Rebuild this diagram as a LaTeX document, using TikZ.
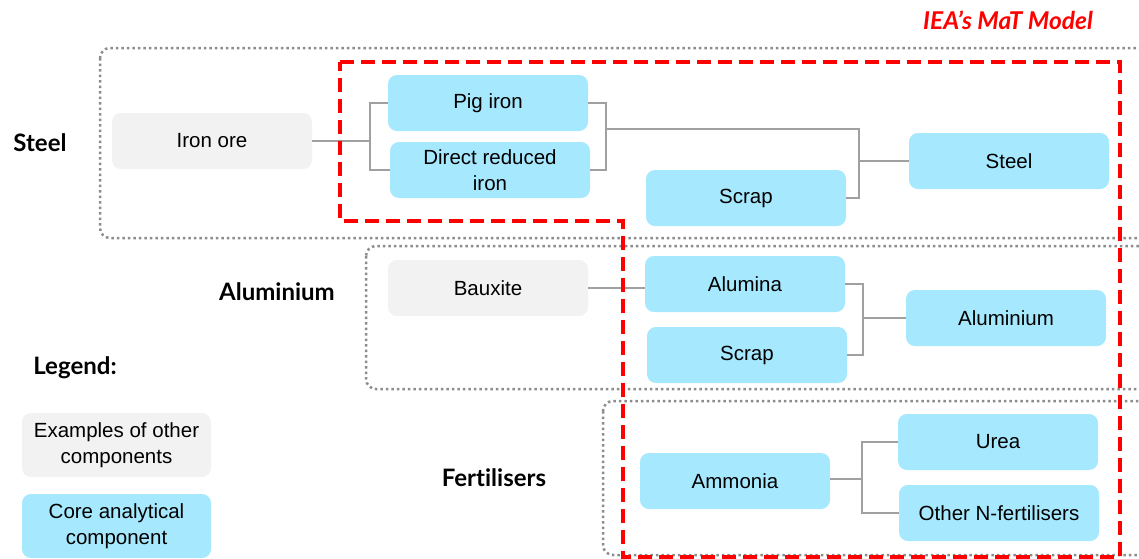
\documentclass[tikz,border=0pt]{standalone}
\usepackage{fontspec}
\setmainfont{Liberation Sans}
\newfontfamily\lblfont[Ligatures={NoCommon}]{Lato}
\definecolor{corefill}{HTML}{A6E8FD}
\definecolor{otherfill}{HTML}{F2F2F2}
\definecolor{linegrey}{HTML}{A0A0A0}
\definecolor{dotgrey}{HTML}{8C8C8C}
\definecolor{ieared}{HTML}{FF0000}
\tikzset{
  box/.style={rounded corners=9pt, minimum width=200pt, minimum height=56pt, align=center, inner sep=2pt,
    font=\fontsize{20.5}{25.5}\selectfont, text=black},
  core/.style={box, fill=corefill},
  other/.style={box, fill=otherfill},
  conn/.style={draw=linegrey, line width=1.4pt},
  group/.style={draw=dotgrey, line width=2.5pt, dash pattern=on 2.5pt off 3pt, rounded corners=10pt},
  model/.style={draw=ieared, line width=4pt, dash pattern=on 14pt off 7pt},
  seclabel/.style={font=\lblfont\bfseries\fontsize{24}{28}\selectfont, text=black},
}
\begin{document}
\begin{tikzpicture}[x=1pt,y=-1pt]
\useasboundingbox (0,0) rectangle (1139,558);
\begin{scope}
\clip (0,0) rectangle (1139,558);
\draw[group] (100,48) rectangle (1160,238);
\draw[group] (366,246) rectangle (1160,389);
\draw[group] (603,401) rectangle (1160,555);
\end{scope}

% labels
\node[seclabel] (lsteel) at (40,143) {Steel};
\node[seclabel] (lalu) at (277,292) {Aluminium};
\node[seclabel] (llegend) at (75,368) {Legend:};
\node[seclabel] (lfert) at (494,478) {Ferti\kern0pt lisers};
\node[font=\lblfont\bfseries\itshape\fontsize{24.5}{28}\selectfont, text=ieared] (ltitle) at (1008,20) {IEA’s MaT Model};

% steel
\node[other] (iron) at (212,141) {Iron ore};
\node[core] (pig) at (488,103) {Pig iron};
\node[core] (dri) at (490,170) {Direct reduced\\iron};
\node[core] (scrap1) at (746,198) {Scrap};
\node[core] (steel) at (1009,161) {Steel};
% aluminium
\node[other] (bauxite) at (488,288) {Bauxite};
\node[core] (alumina) at (745,284) {Alumina};
\node[core] (scrap2) at (747,355) {Scrap};
\node[core] (alu) at (1006,318) {Aluminium};
% fertilisers
\node[core, minimum width=190pt] (ammonia) at (735,481) {Ammonia};
\node[core] (urea) at (998,442) {Urea};
\node[core] (othern) at (999,513) {Other N-fertilisers};
% legend
\node[other, minimum width=189pt, minimum height=64pt] (legother) at (116.5,445) {Examples of other\\components};
\node[core, minimum width=189pt, minimum height=64pt] (legcore) at (116.5,526) {Core analytical\\component};

% connectors
\coordinate (j0) at (370,141);
\coordinate (j1) at (606,129);
\coordinate (j2) at (859,161);
\coordinate (j3) at (863,318);
\coordinate (j4) at (862,479);
\draw[conn] (iron.east) -- (j0);
\draw[conn] (pig.west) -| (j0) |- (dri.west);
\draw[conn] (pig.east) -| (j1) |- (dri.east);
\draw[conn] (j1) -| (j2);
\draw[conn] (scrap1.east) -| (j2) -- (steel.west);
\draw[conn] (bauxite.east) -- (bauxite.east -| alumina.west);
\draw[conn] (alumina.east) -| (j3) |- (scrap2.east);
\draw[conn] (j3) -- (alu.west);
\draw[conn] (ammonia.east |- j4) -- (j4);
\draw[conn] (urea.west) -| (j4) |- (othern.west);

% model boundary
\draw[model] (340,62) -- (1120,62) -- (1120,557) -- (623,557) -- (623,221) -- (340,221) -- cycle;
\end{tikzpicture}
\end{document}
